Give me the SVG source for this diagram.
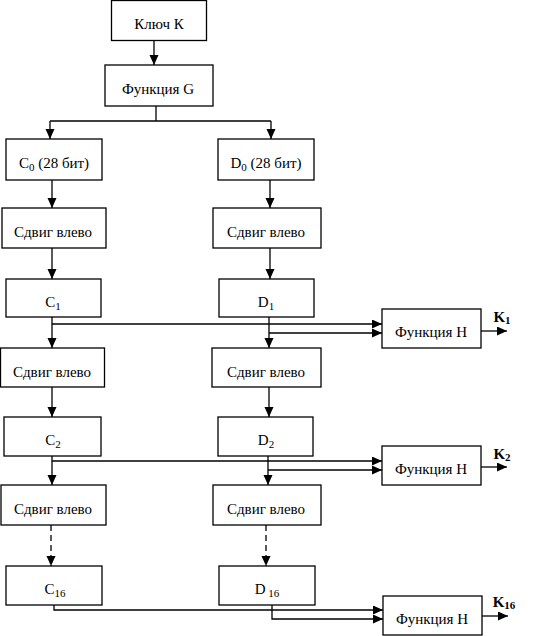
<svg xmlns="http://www.w3.org/2000/svg" width="536" height="636" viewBox="0 0 536 636">
<style>
.box{fill:#fff;stroke:#000;stroke-width:1.3}
.t{font-family:'Liberation Serif','Times New Roman',serif;font-size:15px;text-anchor:middle;fill:#000}
.b{font-weight:bold}
.s{font-size:11px}
.ln{fill:none;stroke:#000;stroke-width:1.3}
.dash{stroke-dasharray:6,4}
</style>
<defs>
<marker id="ah" markerUnits="userSpaceOnUse" markerWidth="10" markerHeight="10" refX="10" refY="4.5" orient="auto">
<path d="M0,0 L10,4.5 L0,9 z" fill="#000"/>
</marker>
</defs>
<g id="connectors">
<line class="ln" x1="154" y1="40" x2="154" y2="65" marker-end="url(#ah)"/>
<polyline class="ln" points="156,106 156,121"/>
<polyline class="ln" points="50,121 271,121"/>
<line class="ln" x1="50" y1="121" x2="50" y2="139" marker-end="url(#ah)"/>
<line class="ln" x1="271" y1="121" x2="271" y2="139" marker-end="url(#ah)"/>
<line class="ln" x1="52" y1="180" x2="52" y2="208" marker-end="url(#ah)"/>
<line class="ln" x1="270" y1="180" x2="270" y2="208" marker-end="url(#ah)"/>
<line class="ln" x1="52" y1="248" x2="52" y2="279" marker-end="url(#ah)"/>
<line class="ln" x1="270" y1="248" x2="270" y2="279" marker-end="url(#ah)"/>
<line class="ln" x1="52" y1="317" x2="52" y2="348" marker-end="url(#ah)"/>
<line class="ln" x1="269" y1="317" x2="269" y2="348" marker-end="url(#ah)"/>
<polyline class="ln" points="52,324 382,324" marker-end="url(#ah)"/>
<polyline class="ln" points="269,333 382,333" marker-end="url(#ah)"/>
<line class="ln" x1="481" y1="331" x2="507" y2="331" marker-end="url(#ah)"/>
<line class="ln" x1="52" y1="387" x2="52" y2="417" marker-end="url(#ah)"/>
<line class="ln" x1="269" y1="387" x2="269" y2="417" marker-end="url(#ah)"/>
<line class="ln" x1="52" y1="456" x2="52" y2="485" marker-end="url(#ah)"/>
<line class="ln" x1="268" y1="456" x2="268" y2="485" marker-end="url(#ah)"/>
<polyline class="ln" points="52,461 382,461" marker-end="url(#ah)"/>
<polyline class="ln" points="268,470 382,470" marker-end="url(#ah)"/>
<line class="ln" x1="481" y1="467" x2="507" y2="467" marker-end="url(#ah)"/>
<line class="ln dash" x1="51" y1="525" x2="51" y2="566" marker-end="url(#ah)"/>
<line class="ln dash" x1="266" y1="525" x2="266" y2="566" marker-end="url(#ah)"/>
<polyline class="ln" points="54,605 54,610 383,610" marker-end="url(#ah)"/>
<polyline class="ln" points="272,605 272,619 383,619" marker-end="url(#ah)"/>
<line class="ln" x1="482" y1="616" x2="508" y2="616" marker-end="url(#ah)"/>
</g>
<g id="key"><rect class="box" x="111.5" y="0.5" width="95" height="40"/><text class="t" x="159" y="29">Ключ К</text></g>
<g id="funcG"><rect class="box" x="105" y="65" width="108" height="41"/><text class="t" x="158" y="94">Функция G</text></g>
<g id="c0"><rect class="box" x="6" y="139" width="96" height="41"/><text class="t" x="54" y="168">C<tspan class="s" dy="3">0</tspan><tspan dy="-3"> (28 бит)</tspan></text></g>
<g id="d0"><rect class="box" x="218" y="139" width="96" height="41"/><text class="t" x="266" y="168">D<tspan class="s" dy="3">0</tspan><tspan dy="-3"> (28 бит)</tspan></text></g>
<g id="shiftL1"><rect class="box" x="2" y="208" width="104" height="40"/><text class="t" x="53" y="237">Сдвиг влево</text></g>
<g id="shiftR1"><rect class="box" x="213" y="208" width="108" height="40"/><text class="t" x="266" y="237">Сдвиг влево</text></g>
<g id="c1"><rect class="box" x="6" y="279" width="95" height="38"/><text class="t" x="53" y="307">C<tspan class="s" dy="3">1</tspan></text></g>
<g id="d1"><rect class="box" x="219" y="279" width="95" height="38"/><text class="t" x="266" y="307">D<tspan class="s" dy="3">1</tspan></text></g>
<g id="shiftL2"><rect class="box" x="0.5" y="348" width="104" height="39"/><text class="t" x="52" y="377">Сдвиг влево</text></g>
<g id="shiftR2"><rect class="box" x="212" y="348" width="109" height="39"/><text class="t" x="266" y="377">Сдвиг влево</text></g>
<g id="funcH1"><rect class="box" x="382" y="309" width="99" height="39"/><text class="t" x="431" y="337">Функция H</text><text class="t b" x="502" y="322">K<tspan class="s" dy="2">1</tspan></text></g>
<g id="c2"><rect class="box" x="4" y="417" width="97" height="39"/><text class="t" x="53" y="445">C<tspan class="s" dy="3">2</tspan></text></g>
<g id="d2"><rect class="box" x="218" y="417" width="95" height="39"/><text class="t" x="266" y="445">D<tspan class="s" dy="3">2</tspan></text></g>
<g id="shiftL3"><rect class="box" x="1" y="485" width="105" height="40"/><text class="t" x="53" y="514">Сдвиг влево</text></g>
<g id="shiftR3"><rect class="box" x="213" y="485" width="108" height="40"/><text class="t" x="266" y="514">Сдвиг влево</text></g>
<g id="funcH2"><rect class="box" x="382" y="446" width="99" height="39"/><text class="t" x="431" y="474">Функция H</text><text class="t b" x="502" y="459">K<tspan class="s" dy="2">2</tspan></text></g>
<g id="c16"><rect class="box" x="6" y="566" width="96" height="39"/><text class="t" x="55" y="594">C<tspan class="s" dy="3">16</tspan></text></g>
<g id="d16"><rect class="box" x="219" y="566" width="96" height="39"/><text class="t" x="267" y="594">D<tspan class="s" dy="3"> 16</tspan></text></g>
<g id="funcH3"><rect class="box" x="383" y="596" width="99" height="39"/><text class="t" x="432" y="624">Функция H</text><text class="t b" x="504" y="607">K<tspan class="s" dy="2">16</tspan></text></g>
</svg>
